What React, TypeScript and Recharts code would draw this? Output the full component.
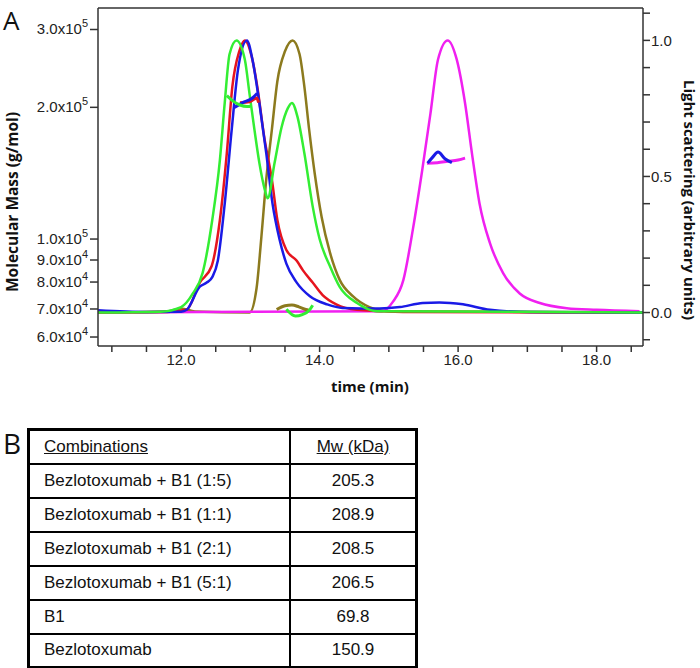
import { LineChart, Line, XAxis, YAxis, ReferenceLine } from "recharts";

// light scattering traces, normalised (time in min, value 0..1)
const lsBlue = [
  [10.8, 0.008], [11.5, 0.002], [12.0, 0.003], [12.08, 0.01], [12.27, 0.095], [12.37, 0.11],
  [12.45, 0.13], [12.53, 0.19], [12.63, 0.4], [12.73, 0.67], [12.82, 0.89], [12.95, 1.0],
  [13.03, 0.93], [13.13, 0.77], [13.23, 0.585], [13.32, 0.4], [13.42, 0.27], [13.52, 0.18],
  [13.67, 0.11], [13.86, 0.06], [14.11, 0.03], [14.33, 0.017], [14.87, 0.015], [15.16, 0.02],
  [15.49, 0.035], [15.73, 0.037], [16.07, 0.03], [16.46, 0.01], [17.04, 0.002], [18.67, 0.0],
];
const lsRed = [
  [10.8, 0.0], [11.8, 0.002], [12.08, 0.01], [12.27, 0.11], [12.44, 0.17], [12.56, 0.34],
  [12.66, 0.585], [12.74, 0.83], [12.84, 0.96], [12.92, 1.0], [13.02, 0.94], [13.1, 0.83],
  [13.2, 0.645], [13.31, 0.49], [13.39, 0.34], [13.52, 0.23], [13.67, 0.19], [13.76, 0.155],
  [13.9, 0.11], [14.04, 0.065], [14.24, 0.03], [14.54, 0.01], [15.2, 0.002], [18.67, 0.0],
];
const lsGreen = [
  [10.8, 0.0], [11.7, 0.003], [12.0, 0.02], [12.17, 0.07], [12.31, 0.145], [12.45, 0.34],
  [12.56, 0.56], [12.63, 0.77], [12.7, 0.95], [12.8, 1.0], [12.92, 0.93], [12.99, 0.8],
  [13.06, 0.67], [13.13, 0.55], [13.21, 0.45], [13.25, 0.42], [13.35, 0.55], [13.45, 0.68],
  [13.54, 0.75], [13.6, 0.77], [13.68, 0.72], [13.78, 0.585], [13.9, 0.39], [14.0, 0.27],
  [14.15, 0.17], [14.29, 0.094], [14.54, 0.035], [14.82, 0.005], [18.67, 0.0],
];
const lsOlive = [
  [10.8, 0.0], [11.8, 0.004], [12.0, 0.015], [12.2, 0.004], [12.99, 0.0], [13.09, 0.09],
  [13.16, 0.28], [13.23, 0.49], [13.31, 0.67], [13.39, 0.85], [13.5, 0.96], [13.61, 1.0],
  [13.71, 0.95], [13.78, 0.83], [13.85, 0.67], [13.93, 0.51], [14.03, 0.35], [14.15, 0.22],
  [14.29, 0.12], [14.48, 0.06], [14.72, 0.02], [15.01, 0.005], [18.67, 0.0],
];
const lsMagenta = [
  [10.8, 0.0], [14.9, 0.005], [15.06, 0.04], [15.21, 0.12], [15.35, 0.31], [15.48, 0.52],
  [15.6, 0.73], [15.71, 0.93], [15.85, 1.0], [15.98, 0.93], [16.1, 0.77], [16.2, 0.585],
  [16.31, 0.4], [16.46, 0.255], [16.65, 0.145], [16.89, 0.07], [17.18, 0.035], [17.57, 0.016],
  [18.0, 0.01], [18.62, 0.005],
];

// molar mass traces (time in min, g/mol)
const mwBlue = [[12.77, 200000], [12.89, 206000], [13.03, 212000], [13.1, 218000]];
const mwRed = [[12.85, 206000], [12.99, 207000], [13.09, 212000], [13.12, 206000]];
const mwGreen = [[12.66, 215000], [12.75, 208000], [12.85, 203000], [12.95, 201000], [13.0, 201000]];
const mwOlive = [[13.38, 69800], [13.5, 71200], [13.6, 71500], [13.7, 70800], [13.8, 69800], [13.85, 69500]];
const mwGreen2 = [[13.52, 69900], [13.65, 67500], [13.75, 68000], [13.85, 69500], [13.9, 71400]];
const mwMagenta = [[15.55, 157500], [15.7, 158000], [15.85, 159000], [16.0, 160000], [16.1, 161500]];
const mwBlue2 = [[15.56, 157600], [15.63, 162000], [15.71, 166000], [15.81, 161000], [15.91, 158000]];

// left axis calibration: mass tick -> position on the shared (right) scale
const massTickValues = [300000, 200000, 100000, 90000, 80000, 70000, 60000];
const massTickPos = [1.04, 0.754, 0.27, 0.193, 0.112, 0.013, -0.09];

const timeTicks = [11, 11.5, 12, 12.5, 13, 13.5, 14, 14.5, 15, 15.5, 16, 16.5, 17, 17.5, 18, 18.5];
const lsTicks = [-0.1, 0, 0.1, 0.2, 0.3, 0.4, 0.5, 0.6, 0.7, 0.8, 0.9, 1.0, 1.1];

const tableHeader = ["Combinations", "Mw (kDa)"];
const combinations = [
  "Bezlotoxumab + B1 (1:5)",
  "Bezlotoxumab + B1 (1:1)",
  "Bezlotoxumab + B1 (2:1)",
  "Bezlotoxumab + B1 (5:1)",
  "B1",
  "Bezlotoxumab",
];
const mwKda = ["205.3", "208.9", "208.5", "206.5", "69.8", "150.9"];

const massToAxis = (m: number) => {
  const pairs = massTickValues.map((v, i) => [v, massTickPos[i]]).sort((a, b) => a[0] - b[0]);
  for (let i = 0; i < pairs.length - 1; i++) {
    const [m0, p0] = pairs[i];
    const [m1, p1] = pairs[i + 1];
    if (m <= m1 || i === pairs.length - 2) {
      return p0 + ((m - m0) / (m1 - m0)) * (p1 - p0);
    }
  }
  return 0;
};

const toLs = (arr: number[][]) => arr.map(([t, v]) => ({ t, v }));
const toMw = (arr: number[][]) => arr.map(([t, m]) => ({ t, v: massToAxis(m) }));

const Y_DOMAIN = [-0.123, 1.119];
const AXIS = "#333";
const TICK_FONT = "'Liberation Sans', Arial, sans-serif";
const LABEL_FONT = "'Open Sans', sans-serif";

const BLUE = "#1a1ae6";
const RED = "#e6141e";
const GREEN = "#33ee33";
const OLIVE = "#8c7a1e";
const MAGENTA = "#f020f0";

const MassTick = (props: any) => {
  const { x, y, payload } = props;
  const i = massTickPos.findIndex((p) => Math.abs(p - payload.value) < 1e-6);
  if (i < 0) return null;
  const m = massTickValues[i];
  const exp = Math.floor(Math.log10(m));
  const mant = (m / Math.pow(10, exp)).toFixed(1);
  return (
    <text x={x} y={y + 5} textAnchor="end" fill="#222" fontSize={15} fontFamily={TICK_FONT}>
      {mant}x10
      <tspan fontSize={11} dy={-7}>{exp}</tspan>
    </text>
  );
};

const series: [number[][], string, boolean][] = [
  [lsOlive, OLIVE, false],
  [lsMagenta, MAGENTA, false],
  [lsRed, RED, false],
  [lsBlue, BLUE, false],
  [lsGreen, GREEN, false],
  [mwOlive, OLIVE, true],
  [mwGreen2, GREEN, true],
  [mwMagenta, MAGENTA, true],
  [mwBlue2, BLUE, true],
  [mwRed, RED, true],
  [mwBlue, BLUE, true],
  [mwGreen, GREEN, true],
];

export default function App() {
  return (
    <div style={{ position: "absolute", left: 0, top: 0, width: 700, height: 668, background: "#fff" }}>
      <LineChart width={700} height={400} margin={{ top: 8, right: 0, bottom: 10, left: 0 }}>
        <XAxis
          dataKey="t"
          type="number"
          domain={[10.8, 18.67]}
          allowDataOverflow
          ticks={timeTicks}
          tickFormatter={(v) => (Number.isInteger(v) && v % 2 === 0 ? v.toFixed(1) : "")}
          tickSize={6}
          height={44}
          stroke={AXIS}
          strokeWidth={1.5}
          tick={{ fill: "#222", fontSize: 15, fontFamily: TICK_FONT }}
          interval={0}
        />
        <YAxis
          yAxisId="left"
          type="number"
          domain={Y_DOMAIN}
          allowDataOverflow
          ticks={massTickPos}
          tick={<MassTick />}
          tickSize={8}
          tickMargin={2}
          width={98}
          stroke={AXIS}
          strokeWidth={1.5}
          interval={0}
        />
        <YAxis
          yAxisId="right"
          orientation="right"
          type="number"
          domain={Y_DOMAIN}
          allowDataOverflow
          ticks={lsTicks}
          tickFormatter={(v) => (Math.abs(v) < 1e-9 || Math.abs(v - 0.5) < 1e-9 || Math.abs(v - 1) < 1e-9 ? v.toFixed(1) : "")}
          tickSize={7}
          tickMargin={1}
          width={57}
          stroke={AXIS}
          strokeWidth={1.5}
          tick={{ fill: "#222", fontSize: 15, fontFamily: TICK_FONT }}
          interval={0}
        />
        <ReferenceLine yAxisId="right" y={Y_DOMAIN[1]} stroke={AXIS} strokeWidth={1.5} />
        {series.map(([arr, color, isMw], i) => (
          <Line
            key={i}
            yAxisId={isMw ? "left" : "right"}
            data={isMw ? toMw(arr) : toLs(arr)}
            dataKey="v"
            type="monotone"
            stroke={color}
            strokeWidth={isMw ? 3 : 2.5}
            dot={false}
            activeDot={false}
            isAnimationActive={false}
          />
        ))}
      </LineChart>

      <svg width={700} height={668} style={{ position: "absolute", left: 0, top: 0, pointerEvents: "none" }}>
        <text x={3} y={30} fontSize={26} fontFamily={LABEL_FONT} fill="#111">A</text>
        <text
          transform="translate(18,202) rotate(-90)"
          textAnchor="middle"
          fontSize={16}
          fontWeight={700}
          fontFamily={LABEL_FONT}
          fill="#111"
          textLength={180}
          lengthAdjust="spacingAndGlyphs"
        >
          Molecular Mass (g/mol)
        </text>
        <text
          transform="translate(684,200) rotate(90)"
          textAnchor="middle"
          fontSize={15}
          fontWeight={700}
          fontFamily={LABEL_FONT}
          fill="#111"
          textLength={240}
          lengthAdjust="spacingAndGlyphs"
        >
          Light scattering (arbitrary units)
        </text>
        <text x={370} y={392} textAnchor="middle" fontSize={15} fontWeight={700} fontFamily={LABEL_FONT} fill="#111">
          time (min)
        </text>
        <text x={3} y={454} fontSize={28} fontFamily={LABEL_FONT} fill="#111">B</text>
      </svg>

      <table
        style={{
          position: "absolute",
          left: 27,
          top: 428,
          width: 391,
          borderCollapse: "collapse",
          border: "3px solid #000",
          fontFamily: TICK_FONT,
          fontSize: 17,
          color: "#111",
        }}
      >
        <tbody>
          <tr style={{ height: 34 }}>
            <td style={{ border: "2px solid #000", padding: "0 0 0 14px", textDecoration: "underline" }}>{tableHeader[0]}</td>
            <td style={{ border: "2px solid #000", width: 122, textAlign: "center", textDecoration: "underline" }}>{tableHeader[1]}</td>
          </tr>
          {combinations.map((c, i) => (
            <tr key={c} style={{ height: 34 }}>
              <td style={{ border: "2px solid #000", padding: "0 0 0 14px" }}>{c}</td>
              <td style={{ border: "2px solid #000", textAlign: "center" }}>{mwKda[i]}</td>
            </tr>
          ))}
        </tbody>
      </table>
    </div>
  );
}
